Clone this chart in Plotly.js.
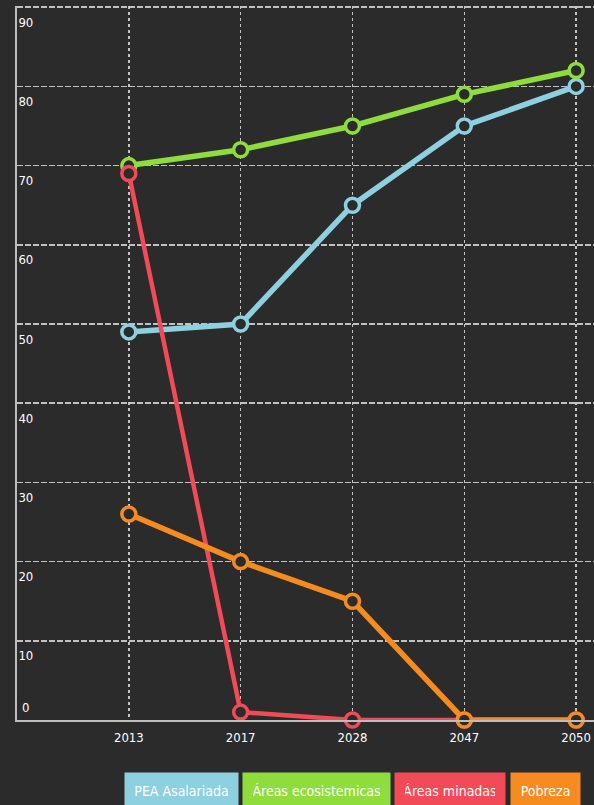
<!DOCTYPE html>
<html>
<head>
<meta charset="utf-8">
<script src="https://cdn.plot.ly/plotly-3.0.1.min.js"></script>
<style>
html,body{margin:0;padding:0;background:#2b2b2b;}
#chart{width:594px;height:805px;}
</style>
</head>
<body>
<div id="chart"></div>
<script>
const years = ["2013", "2017", "2028", "2047", "2050"];
const seriesNames = ["PEA Asalariada", "Áreas ecosistemicas", "Áreas minadas", "Pobreza"];
const peaAsalariada = [49, 50, 65, 75, 80];
const areasEcosistemicas = [70, 72, 75, 79, 82];
const areasMinadas = [69, 1, 0, 0, 0];
const pobreza = [26, 20, 15, 0, 0];
const yTicks = [10, 20, 30, 40, 50, 60, 70, 80, 90];
const yZeroLabel = "0";

const colors = ["#8dd0e0", "#8fdd3c", "#f24b57", "#f68b1f"];
const widths = [5.5, 5.5, 4.5, 5.5];
const values = [peaAsalariada, areasEcosistemicas, areasMinadas, pobreza];
const FONT = "'DejaVu Sans Condensed', 'Liberation Sans Narrow', sans-serif";

const traces = values.map((v, i) => ({
  type: "scatter",
  mode: "lines+markers",
  x: years,
  y: v,
  name: seriesNames[i],
  line: {color: colors[i], width: widths[i]},
  marker: {size: 14, color: "#2b2b2b", line: {color: colors[i], width: 3.5}},
  showlegend: false,
  cliponaxis: false
}));

const legendPos = [181.5, 316.5, 450, 545.5];
const legendW = [113, 147, 110, 69];
const annotations = seriesNames.map((n, i) => ({
  text: n,
  xref: "paper",
  yref: "paper",
  x: (legendPos[i] - 17) / 577,
  y: -(791 - 720) / 714,
  xanchor: "center",
  yanchor: "middle",
  showarrow: false,
  bgcolor: colors[i],
  borderpad: 10,
  width: legendW[i] - 20,
  font: {family: FONT, size: 14, color: "#ffffff"}
}));
annotations.push({
  text: yZeroLabel,
  xref: "paper",
  yref: "y",
  x: 0,
  y: 0,
  xanchor: "left",
  yanchor: "bottom",
  xshift: 3,
  yshift: 3,
  showarrow: false,
  font: {family: FONT, size: 13, color: "#ffffff"}
});

const layout = {
  width: 594,
  height: 805,
  paper_bgcolor: "#2b2b2b",
  plot_bgcolor: "#2b2b2b",
  margin: {l: 17, r: 0, t: 6, b: 85},
  font: {family: FONT, color: "#ffffff", size: 12},
  xaxis: {
    type: "category",
    categoryorder: "array",
    categoryarray: years,
    range: [-1, 4.16],
    showgrid: true,
    gridcolor: "rgba(235,235,235,0.8)",
    griddash: "dot",
    gridwidth: 1.5,
    showline: true,
    linecolor: "#bdbdbd",
    linewidth: 2,
    zeroline: false,
    ticks: "",
    ticklabelstandoff: 4,
    tickfont: {family: FONT, size: 13, color: "#ffffff"},
    fixedrange: true
  },
  yaxis: {
    range: [0, 90.15],
    tickvals: yTicks,
    ticktext: yTicks.map(String),
    ticklabelposition: "inside bottom",
    ticklabelshift: 6,
    showgrid: true,
    gridcolor: "rgba(220,220,220,0.85)",
    griddash: "6px,2px",
    gridwidth: 1.5,
    showline: true,
    linecolor: "#bdbdbd",
    linewidth: 2,
    zeroline: false,
    ticks: "",
    tickfont: {family: FONT, size: 13, color: "#ffffff"},
    fixedrange: true
  },
  annotations: annotations,
  showlegend: false
};

Plotly.newPlot("chart", traces, layout, {displayModeBar: false, staticPlot: true});
</script>
</body>
</html>
